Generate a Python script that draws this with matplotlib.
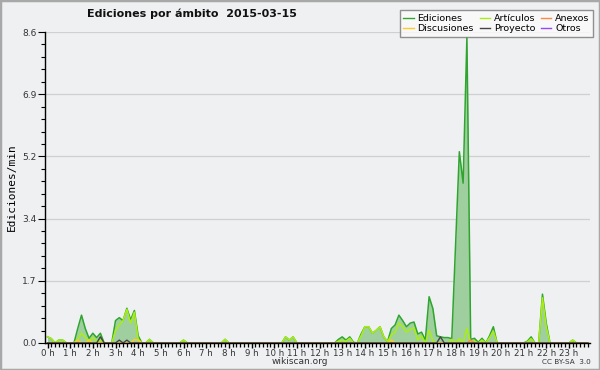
import numpy as np
import matplotlib
matplotlib.use("Agg")
import matplotlib.pyplot as plt
from matplotlib.lines import Line2D
from matplotlib.ticker import MultipleLocator

plt.rcParams['font.family'] = ['DejaVu Sans']

# 10-minute buckets over the day (6 per hour)
slot = np.arange(144)
hours = slot / 6.0

ediciones = [
    0.17, 0.12, 0, 0.08, 0.08, 0,        # 0 h
    0, 0, 0.4, 0.77, 0.4, 0.13,          # 1 h
    0.27, 0.15, 0.27, 0, 0, 0,           # 2 h
    0.62, 0.7, 0.62, 0.96, 0.64, 0.9,    # 3 h
    0.2, 0, 0, 0.1, 0, 0,                # 4 h
    0, 0, 0, 0, 0, 0,                    # 5 h
    0.08, 0, 0, 0, 0, 0,                 # 6 h
    0, 0, 0, 0, 0, 0.1,                  # 7 h
    0, 0, 0, 0, 0, 0,                    # 8 h
    0, 0, 0, 0, 0, 0,                    # 9 h
    0, 0, 0, 0.17, 0.08, 0.17,           # 10 h
    0, 0, 0, 0, 0, 0,                    # 11 h
    0, 0, 0, 0, 0, 0.1,                  # 12 h
    0.17, 0.08, 0.17, 0.02, 0, 0.25,     # 13 h
    0.45, 0.45, 0.27, 0.35, 0.45, 0.17,  # 14 h
    0.04, 0.4, 0.5, 0.77, 0.62, 0.45,    # 15 h
    0.55, 0.58, 0.25, 0.3, 0.08, 1.28,   # 16 h
    0.95, 0.2, 0.17, 0.15, 0.15, 0.12,   # 17 h
    2.7, 5.29, 4.42, 8.45, 0.1, 0.13,    # 18 h
    0.02, 0.13, 0, 0.2, 0.45, 0,         # 19 h
    0, 0, 0, 0, 0, 0,                    # 20 h
    0, 0.05, 0.17, 0, 0, 1.35,           # 21 h
    0.55, 0, 0, 0, 0, 0,                 # 22 h
    0, 0.08, 0, 0, 0, 0,                 # 23 h
]

articulos = [
    0.17, 0.12, 0, 0.08, 0.08, 0,
    0, 0, 0.1, 0.27, 0.15, 0.05,
    0.15, 0.05, 0.08, 0, 0, 0,
    0.35, 0.5, 0.62, 0.93, 0.55, 0.85,
    0.1, 0, 0, 0.1, 0, 0,
    0, 0, 0, 0, 0, 0,
    0.08, 0, 0, 0, 0, 0,
    0, 0, 0, 0, 0, 0.1,
    0, 0, 0, 0, 0, 0,
    0, 0, 0, 0, 0, 0,
    0, 0, 0, 0.17, 0.08, 0.17,
    0, 0, 0, 0, 0, 0,
    0, 0, 0, 0, 0, 0.05,
    0.08, 0.05, 0.13, 0, 0, 0.2,
    0.45, 0.45, 0.27, 0.35, 0.45, 0.17,
    0.04, 0.22, 0.3, 0.55, 0.45, 0.3,
    0.38, 0.42, 0.08, 0.2, 0, 0.35,
    0.05, 0, 0, 0, 0, 0.1,
    0, 0.12, 0, 0.4, 0, 0.05,
    0, 0.08, 0, 0.15, 0.33, 0,
    0, 0, 0, 0, 0, 0,
    0, 0.03, 0.12, 0, 0, 1.25,
    0.45, 0, 0, 0, 0, 0,
    0, 0.08, 0, 0, 0, 0,
]

anexos = [0.0] * 144
anexos[112] = 0.08

discusiones = [0.0] * 144
for k, v in [(8, 0.08), (11, 0.08), (23, 0.1), (24, 0.08), (91, 0.08)]:
    discusiones[k] = v

proyecto = [0.0] * 144
for k, v in [(14, 0.17), (19, 0.08), (21, 0.08), (104, 0.17)]:
    proyecto[k] = v

otros = [0.0] * 144

series_names = ["Ediciones", "Discusiones", "Artículos", "Proyecto", "Anexos", "Otros"]
y_ticks = [0.0, 1.72, 3.44, 5.16, 6.88, 8.6]
y_labels = ["0.0", "1.7", "3.4", "5.2", "6.9", "8.6"]
hour_labels = [f"{h} h" for h in range(24)]

bg = "#eef0f1"
c_ed = "#2fa52f"
c_fill = "#9fcf9f"
c_art = "#aaee11"
c_anx = "#ff8844"
c_dis = "#ffcc22"
c_pro = "#444444"
c_otr = "#9944ff"

fig = plt.figure(figsize=(6, 3.7), dpi=100, facecolor=bg)
fig.patches.append(plt.Rectangle((0, 0), 1, 1, transform=fig.transFigure,
                                 fill=False, edgecolor="#a8a8a8", linewidth=2.5))
ax = fig.add_axes([45 / 600, 27 / 370, 545 / 600, 311 / 370])
ax.set_facecolor(bg)

x0 = -2.5 / 22.67
ax.set_xlim(x0, x0 + 545 / 22.67)
ax.set_ylim(0, 8.6)

ax.fill_between(hours, ediciones, 0, color=c_fill, linewidth=0, zorder=2)
ax.plot(hours, otros, color=c_otr, lw=1, zorder=3)
ax.plot(hours, ediciones, color=c_ed, lw=1.1, zorder=4)
ax.plot(hours, articulos, color=c_art, lw=1.1, zorder=5)
ax.plot(hours, anexos, color=c_anx, lw=1, zorder=6)
ax.plot(hours, discusiones, color=c_dis, lw=1, zorder=6)
ax.plot(hours, proyecto, color=c_pro, lw=1, zorder=7)

ax.set_yticks(y_ticks)
ax.set_yticklabels(y_labels)
ax.yaxis.set_minor_locator(MultipleLocator(8.6 / 25))
ax.set_xticks(np.arange(24))
ax.set_xticklabels(hour_labels)
ax.xaxis.set_minor_locator(MultipleLocator(1 / 6))

ax.grid(axis="y", color="#cfd0d2", linewidth=0.9, zorder=1)
ax.set_axisbelow(True)
for s in ["top", "right"]:
    ax.spines[s].set_visible(False)
for s in ["left", "bottom"]:
    ax.spines[s].set_color("black")
    ax.spines[s].set_linewidth(1.0)
    ax.spines[s].set_zorder(10)

ax.tick_params(axis="y", which="major", direction="out", length=5, width=0.8,
               labelsize=6.5, pad=1, colors="black", labelcolor="#333333")
ax.tick_params(axis="y", which="minor", direction="out", length=3, width=0.8)
ax.tick_params(axis="x", which="major", direction="out", length=3.5, width=1,
               labelsize=6.2, pad=0.5, labelcolor="#333333")
ax.tick_params(axis="x", which="minor", direction="out", length=3, width=0.9)

ax.set_ylabel("Ediciones/min", fontsize=8, family="DejaVu Sans Mono", labelpad=4)

fig.text(0.145, 0.962, "Ediciones por ámbito  2015-03-15", fontsize=8,
         fontweight="bold", ha="left", va="center", color="#111111")
fig.text(0.5, 0.024, "wikiscan.org", fontsize=6.5, ha="center", va="center", color="#333333")
fig.text(0.985, 0.022, "CC BY-SA  3.0", fontsize=5.2, ha="right", va="center", color="#333333")

colors = [c_ed, c_dis, c_art, c_pro, c_anx, c_otr]
handles = [Line2D([0], [0], color=c, lw=1) for c in colors]
leg = fig.legend(handles, series_names, ncol=3, loc="upper right",
                 bbox_to_anchor=(0.992, 0.978), fontsize=6.8, frameon=True,
                 fancybox=False, handlelength=1.1, handletextpad=0.4,
                 columnspacing=0.6, labelspacing=0.15, borderpad=0.4,
                 borderaxespad=0.2)
leg.get_frame().set_facecolor("#fbfbfb")
leg.get_frame().set_edgecolor("#777777")
leg.get_frame().set_linewidth(1.0)

fig.savefig("out.png", dpi=100, facecolor=bg)
